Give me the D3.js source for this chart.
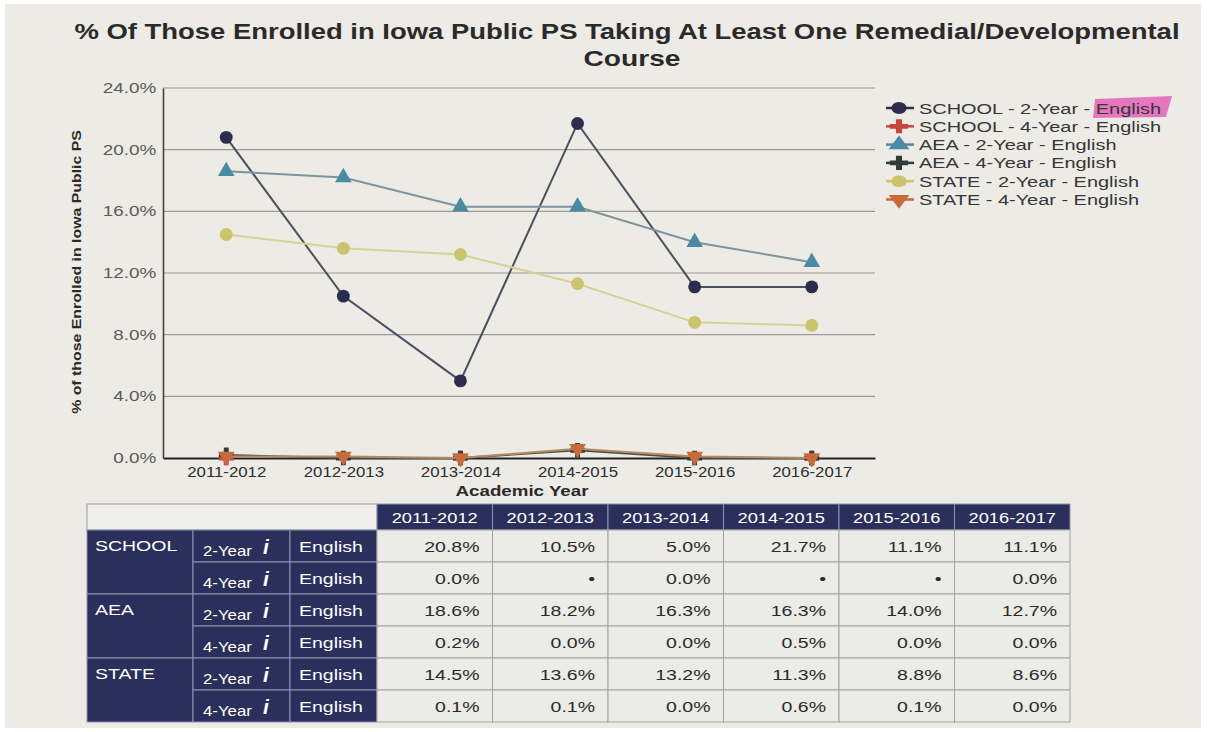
<!DOCTYPE html>
<html>
<head>
<meta charset="utf-8">
<script src="https://d3js.org/d3.v7.min.js"></script>
<style>
  body { margin: 0; background: #ffffff; }
  svg text { font-family: "Liberation Sans", Arial, sans-serif; }
</style>
</head>
<body>
<div id="chart"></div>
<script>
// ---- data ----
var years = ["2011-2012", "2012-2013", "2013-2014", "2014-2015", "2015-2016", "2016-2017"];
var groups = ["SCHOOL", "AEA", "STATE"];
var levels = ["2-Year", "4-Year"];

var school2 = [20.8, 10.5, 5.0, 21.7, 11.1, 11.1];
var school4 = [0.0, null, 0.0, null, null, 0.0];
var aea2    = [18.6, 18.2, 16.3, 16.3, 14.0, 12.7];
var aea4    = [0.2, 0.0, 0.0, 0.5, 0.0, 0.0];
var state2  = [14.5, 13.6, 13.2, 11.3, 8.8, 8.6];
var state4  = [0.1, 0.1, 0.0, 0.6, 0.1, 0.0];

var yTicks = [0, 4, 8, 12, 16, 20, 24];

var series = [
  {name: "SCHOOL - 2-Year - English", group: "SCHOOL", level: "2-Year", values: school2, marker: d3.symbolCircle, fill: "#2c2d4c", line: "#4d4e60"},
  {name: "SCHOOL - 4-Year - English", group: "SCHOOL", level: "4-Year", values: school4, marker: d3.symbolCross, fill: "#c9463f", line: "#c9463f"},
  {name: "AEA - 2-Year - English",    group: "AEA",    level: "2-Year", values: aea2,    marker: d3.symbolTriangle, fill: "#4b8aa3", line: "#7d949f"},
  {name: "AEA - 4-Year - English",    group: "AEA",    level: "4-Year", values: aea4,    marker: d3.symbolCross, fill: "#2f3c3a", line: "#46514c"},
  {name: "STATE - 2-Year - English",  group: "STATE",  level: "2-Year", values: state2,  marker: d3.symbolCircle, fill: "#cbc46c", line: "#d6d296"},
  {name: "STATE - 4-Year - English",  group: "STATE",  level: "4-Year", values: state4,  marker: "down", fill: "#c96a3b", line: "#b98a62"}
];

var W = 1207, H = 732;
var plot = {left: 163, right: 875, top: 88, bottom: 458};
var SX = 1.28; // the photo is wider than it is tall, so text runs wide

var svg = d3.select("#chart").append("svg")
  .attr("width", W).attr("height", H);

// text that is stretched sideways like in the photo
function label(g, x, y, str, size, anchor, sx) {
  return g.append("text")
    .attr("transform", "translate(" + x + "," + y + ") scale(" + (sx || SX) + ",1)")
    .attr("text-anchor", anchor || "start")
    .attr("font-size", size)
    .text(str);
}

// photographed paper
svg.append("rect").attr("x", 5).attr("y", 4).attr("width", 1196).attr("height", 724)
  .attr("fill", "#ecebe6");

svg.append("text").attr("x", 627).attr("y", 39).attr("text-anchor", "middle")
  .attr("font-size", 22).attr("font-weight", "bold").attr("fill", "#2a2a2a")
  .attr("textLength", 1105).attr("lengthAdjust", "spacingAndGlyphs")
  .text("% Of Those Enrolled in Iowa Public PS Taking At Least One Remedial/Developmental");
label(svg, 632, 66, "Course", 22, "middle").attr("font-weight", "bold").attr("fill", "#2a2a2a");

var x = d3.scalePoint().domain(years).range([plot.left, plot.right]).padding(0.54);
var y = d3.scaleLinear().domain([0, 24]).range([plot.bottom, plot.top]);

// grid
svg.append("g").selectAll("line").data(yTicks.slice(1)).join("line")
  .attr("x1", plot.left).attr("x2", plot.right)
  .attr("y1", function(d) { return y(d); }).attr("y2", function(d) { return y(d); })
  .attr("stroke", "#9a9a96").attr("stroke-width", 1.2);

// y axis
var yAxis = svg.append("g").attr("transform", "translate(" + plot.left + ",0)")
  .call(d3.axisLeft(y).tickValues(yTicks).tickSize(0).tickPadding(5)
    .tickFormat(function(d) { return d3.format(".1f")(d) + "%"; }));
yAxis.select(".domain").attr("stroke", "#3a3a3a").attr("stroke-width", 1.5);
yAxis.selectAll("text").attr("font-size", 14).attr("fill", "#5a5a5a")
  .attr("font-family", "Liberation Sans, Arial, sans-serif")
  .attr("transform", "scale(1.35,1)");

// x axis
var xAxis = svg.append("g").attr("transform", "translate(0," + plot.bottom + ")")
  .call(d3.axisBottom(x).tickSize(0).tickPadding(8));
xAxis.select(".domain").attr("stroke", "#222").attr("stroke-width", 2);
xAxis.selectAll("text").attr("font-size", 15).attr("fill", "#2e2e2e")
  .attr("font-family", "Liberation Sans, Arial, sans-serif")
  .attr("transform", "scale(1.12,1)");

label(svg, 522, 496, "Academic Year", 15, "middle", 1.25).attr("font-weight", "bold").attr("fill", "#2a2a2a");

svg.append("text").attr("transform", "translate(81," + 272 + ") rotate(-90) scale(1.22,1)")
  .attr("text-anchor", "middle").attr("font-size", 13).attr("font-weight", "bold").attr("fill", "#2a2a2a")
  .text("% of those Enrolled in Iowa Public PS");

function markerPath(s, size) {
  var type = s === "down" ? d3.symbolTriangle : s;
  return function() { return d3.symbol(type, size)(); };
}

// lines, drawn from top series down so the 4-year ones sit on top near zero
var order = [0, 2, 4, 1, 3, 5];
order.forEach(function(i) {
  var s = series[i];
  var pts = years.map(function(yr, j) { return {year: yr, v: s.values[j]}; });
  var line = d3.line()
    .defined(function(d) { return d.v !== null; })
    .x(function(d) { return x(d.year); })
    .y(function(d) { return y(d.v); });
  svg.append("path").datum(pts)
    .attr("fill", "none").attr("stroke", s.line).attr("stroke-width", 2)
    .attr("d", line);
  svg.append("g").selectAll("path").data(pts.filter(function(d) { return d.v !== null; })).join("path")
    .attr("transform", function(d) {
      return "translate(" + x(d.year) + "," + y(d.v) + ")" + (s.marker === "down" ? " rotate(180)" : "");
    })
    .attr("d", markerPath(s.marker, s.marker === d3.symbolCircle ? 130 : 120))
    .attr("fill", s.fill);
});

// legend
var leg = svg.append("g");
// highlighter mark on the first row
leg.append("path").attr("d", "M1095,99 L1172,96 L1166,117 L1093,118 Z")
  .attr("fill", "#e463b9").attr("opacity", 0.85);
series.forEach(function(s, i) {
  var ly = 108 + i * 18.3;
  leg.append("line").attr("x1", 886).attr("x2", 914).attr("y1", ly).attr("y2", ly)
    .attr("stroke", s.fill).attr("stroke-width", 2.5);
  leg.append("path")
    .attr("transform", "translate(899," + ly + ") scale(1.3,1)" + (s.marker === "down" ? " rotate(180)" : ""))
    .attr("d", markerPath(s.marker, 110)).attr("fill", s.fill);
  label(leg, 919, ly + 5.5, s.name, 15, "start", 1.33).attr("fill", "#363636");
});

// table
var navy = "#2a2f5c";
var tbl = {left: 87, right: 1070, top: 504, headH: 26, rowH: 32};
var col0 = [87, 193, 290, 377];
var tx = d3.scaleBand().domain(years).range([377, tbl.right]);
var rowKeys = [];
groups.forEach(function(g) { levels.forEach(function(l) { rowKeys.push(g + "|" + l); }); });
var ty = d3.scaleBand().domain(rowKeys).range([tbl.top + tbl.headH, tbl.top + tbl.headH + tbl.rowH * rowKeys.length]);

var t = svg.append("g");
t.append("rect").attr("x", tbl.left).attr("y", tbl.top).attr("width", 377 - tbl.left).attr("height", tbl.headH)
  .attr("fill", "#eeeeea").attr("stroke", "#9a9a9a");
t.selectAll(".hd").data(years).join("rect")
  .attr("x", function(d) { return tx(d); }).attr("y", tbl.top)
  .attr("width", tx.bandwidth()).attr("height", tbl.headH)
  .attr("fill", navy).attr("stroke", "#8d93b0").attr("stroke-width", 1);
years.forEach(function(d) {
  label(t, tx(d) + tx.bandwidth() / 2, tbl.top + 19, d, 15, "middle", 1.22).attr("fill", "#fff");
});

groups.forEach(function(g) {
  var gy = ty(g + "|2-Year");
  t.append("rect").attr("x", col0[0]).attr("y", gy).attr("width", col0[1] - col0[0]).attr("height", tbl.rowH * 2)
    .attr("fill", navy).attr("stroke", "#8d93b0");
  label(t, col0[0] + 8, gy + 21, g, 15, "start", 1.3).attr("fill", "#fff");
});

series.forEach(function(s) {
  var ry = ty(s.group + "|" + s.level);
  t.append("rect").attr("x", col0[1]).attr("y", ry).attr("width", col0[2] - col0[1]).attr("height", tbl.rowH)
    .attr("fill", navy).attr("stroke", "#8d93b0");
  label(t, col0[1] + 10, ry + 26, s.level, 14, "start", 1.2).attr("fill", "#fff");
  t.append("text").attr("x", col0[1] + 70).attr("y", ry + 24).attr("font-size", 21).attr("font-weight", "bold")
    .attr("font-style", "italic").attr("fill", "#fff").text("i");
  t.append("rect").attr("x", col0[2]).attr("y", ry).attr("width", col0[3] - col0[2]).attr("height", tbl.rowH)
    .attr("fill", navy).attr("stroke", "#8d93b0");
  label(t, col0[2] + 9, ry + 22, "English", 15, "start", 1.3).attr("fill", "#fff");

  t.append("g").selectAll("rect").data(years).join("rect")
    .attr("x", function(d) { return tx(d); }).attr("y", ry)
    .attr("width", tx.bandwidth()).attr("height", tbl.rowH)
    .attr("fill", "#ebebe7").attr("stroke", "#a3a3a0");
  s.values.forEach(function(d, j) {
    label(t, tx(years[j]) + tx.bandwidth() - 13, ry + 22,
      d === null ? "•" : d3.format(".1f")(d) + "%", 15, "end", 1.3).attr("fill", "#2a2a2a");
  });
});
</script>
</body>
</html>
